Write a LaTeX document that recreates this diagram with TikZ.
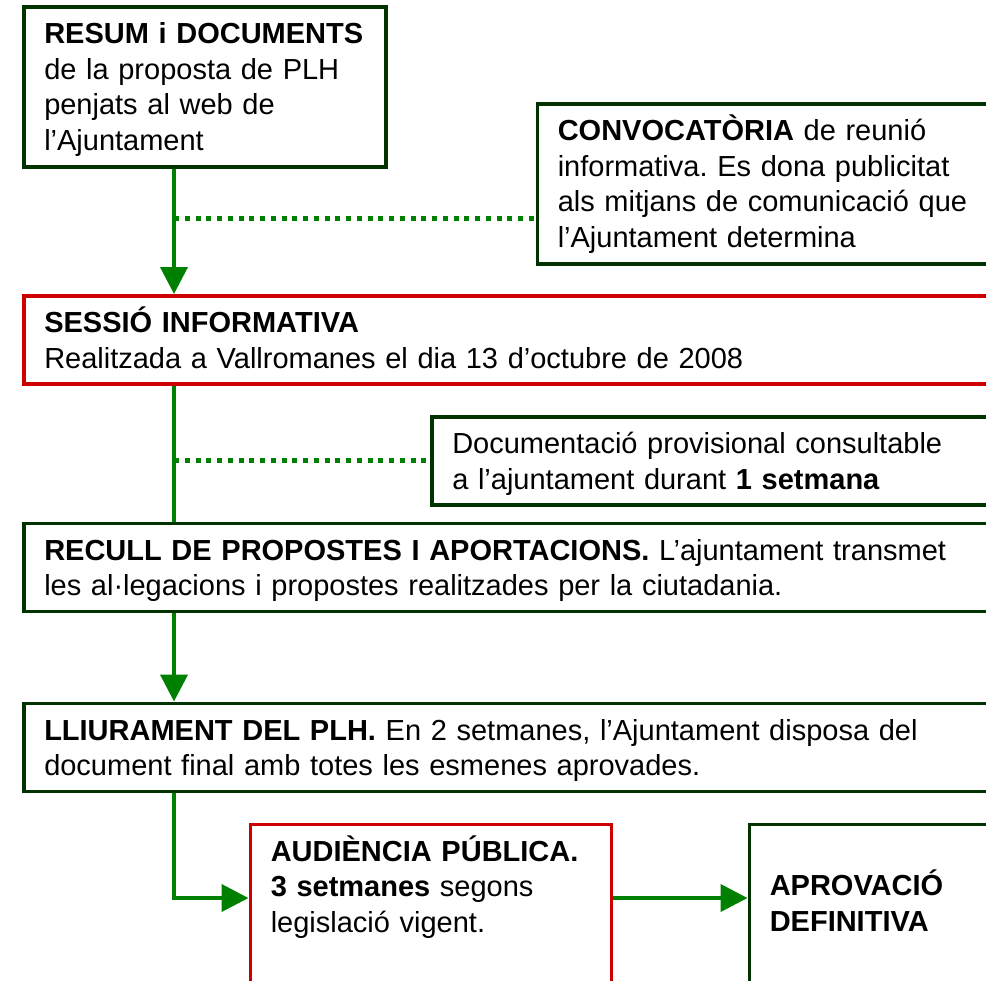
\documentclass[tikz,border=0pt]{standalone}
\usepackage{fontspec}
\setmainfont{Liberation Sans}
\usetikzlibrary{arrows.meta}
\definecolor{fern}{RGB}{0, 51, 0}
\definecolor{kelly}{RGB}{0, 128, 0}
\definecolor{cardinal}{RGB}{204, 0, 0}
\frenchspacing
\tikzset{
  box/.style={draw, line width=0.07cm, anchor=north west, align=left,
              inner xsep=0.41cm, inner ysep=0pt, text height=0.74cm, text depth=1.02cm,
              font=\fontsize{16.5}{20.2}\selectfont},
  greenbox/.style={box, draw=fern},
  redbox/.style={box, draw=cardinal},
  flow/.style={kelly, line width=0.08cm},
  flowarrow/.style={flow, -{Triangle[length=0.54cm, width=0.54cm]}},
  dotflow/.style={kelly, line width=0.10cm, dash pattern=on 0.10cm off 0.115cm},
}

\begin{document}
\begin{tikzpicture}
            \useasboundingbox                                         ( 0.00, 0.00) rectangle (19.72,-19.60);
            \clip                                                     ( 0.00, 0.00) rectangle (19.72,-19.60);
            \coordinate (spine) at ( 3.48,  0.00);
            \coordinate (tap)   at ( 0.00, -4.36);
            \coordinate (join)  at ( 0.00,-17.96);

            \node[greenbox, text width=6.42cm, text depth=2.46cm]      (resum)     at ( 0.44, -0.10)
                 {\textbf{RESUM i DOCUMENTS}\\de la proposta de PLH\\penjats al web de\\l’Ajuntament};
            \node[greenbox, text width=8.64cm, text depth=2.46cm]      (convoca)   at (10.71, -2.04)
                 {\textbf{CONVOCATÒRIA} de reunió\\informativa. Es dona publicitat\\als mitjans de comunicació que\\l’Ajuntament determina};
            \node[redbox,   text width=19.00cm]                        (sessio)    at ( 0.44, -5.88)
                 {\textbf{SESSIÓ INFORMATIVA}\\Realitzada a Vallromanes el dia 13 d’octubre de 2008};
            \node[greenbox, text width=10.40cm]                        (consulta)  at ( 8.60, -8.30)
                 {Documentació provisional consultable\\a l’ajuntament durant \textbf{1 setmana}};
            \node[greenbox, text width=19.00cm]                        (recull)    at ( 0.44,-10.43)
                 {\textbf{RECULL DE PROPOSTES I APORTACIONS.} L’ajuntament transmet\\les al·legacions i propostes realitzades per la ciutadania.};
            \node[greenbox, text width=19.00cm]                        (lliura)    at ( 0.44,-14.03)
                 {\textbf{LLIURAMENT DEL PLH.} En 2 setmanes, l’Ajuntament disposa del\\document final amb totes les esmenes aprovades.};
            \node[redbox,   text width=6.40cm, text depth=3.00cm]      (audiencia) at ( 4.97,-16.45)
                 {\textbf{AUDIÈNCIA PÚBLICA.}\\\textbf{3 setmanes} segons\\legislació vigent.};
            \node[greenbox, text width=5.00cm, text height=1.43cm, text depth=3.00cm] (aprova) at (14.95,-16.45)
                 {\textbf{APROVACIÓ}\\\textbf{DEFINITIVA}};

            \draw[dotflow]   (tap -| spine)            -- (tap -| convoca.west);
            \draw[dotflow]   (consulta.west -| spine)  -- (consulta.west);
            \draw[flowarrow] (resum.south -| spine)    -- (sessio.north -| spine);
            \draw[flow]      (sessio.south -| spine)   -- (recull.north -| spine);
            \draw[flowarrow] (recull.south -| spine)   -- (lliura.north -| spine);
            \draw[flowarrow] (lliura.south -| spine)   |- (audiencia.west |- join);
            \draw[flowarrow] (audiencia.east |- join)  -- (aprova.west |- join);
        \end{tikzpicture}
\end{document}
